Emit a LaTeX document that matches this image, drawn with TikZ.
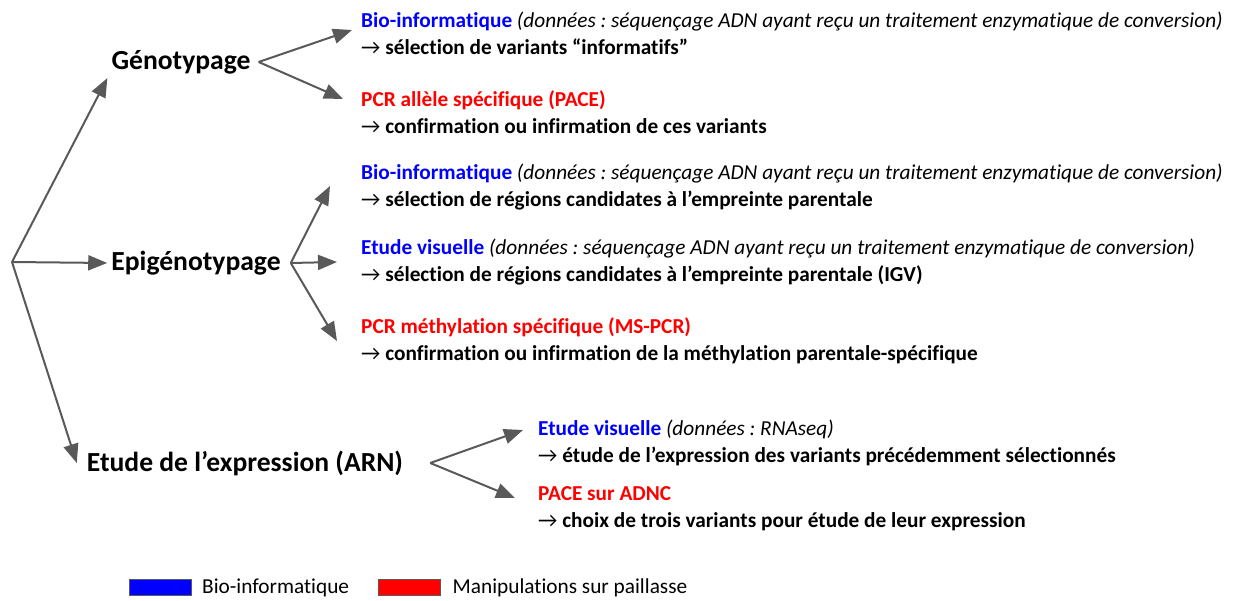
\documentclass[tikz,border=0pt]{standalone}
\usepackage{fontspec}
\setmainfont{Carlito}[Ligatures=NoCommon]
\frenchspacing
\usetikzlibrary{positioning}
\usetikzlibrary{arrows.meta}
\definecolor{arrgray}{RGB}{89,89,89}
\definecolor{infoblue}{RGB}{0,0,255}
\definecolor{wetred}{RGB}{255,0,0}
\newcommand{\bioinfo}[1]{\textcolor{infoblue}{#1}}
\newcommand{\paillasse}[1]{\textcolor{wetred}{#1}}
\newcommand{\donnees}[1]{{\mdseries\itshape (données : #1)}}
\newcommand{\fleche}{{\mdseries →}}

\begin{document}
\begin{tikzpicture}[x=1pt,y=-1pt,
  main/.style={font=\fontsize{27.6}{32}\selectfont\bfseries,inner sep=4pt},
  item/.style={anchor=west,align=left,inner sep=0pt,
    font=\fontsize{21.3}{27}\selectfont\bfseries},
  arr/.style={-{Triangle[length=19pt,width=15pt]},line width=2pt,color=arrgray},
  legbox/.style={draw=arrgray,line width=1pt,minimum width=62pt,
    minimum height=16pt,inner sep=0pt},
  legtxt/.style={font=\fontsize{21.3}{24}\selectfont,inner sep=0pt}
]
  \useasboundingbox (0,0) rectangle (1242,601);
  \coordinate (root) at (12,262);
  % main branches
  \node[main] (gen) at (181,62) {Génotypage};
  \node[main] (epi) at (196,263) {Epigénotypage};
  \node[main] (arn) at (245,463) {Etude de l’expression (ARN)};
  % genotypage
  \node[item] (g1a) at (361,33)
    {\bioinfo{Bio-informatique} \donnees{séquençage ADN ayant reçu un traitement enzymatique de conversion}\\
     \fleche{} sélection de variants “informatifs”};
  \node[item] (g1b) at (361,112)
    {\paillasse{PCR allèle spécifique (PACE)}\\
     \fleche{} confirmation ou infirmation de ces variants};
  % epigenotypage
  \node[item] (e1) at (361,187)
    {\bioinfo{Bio-informatique} \donnees{séquençage ADN ayant reçu un traitement enzymatique de conversion}\\
     \fleche{} sélection de régions candidates à l’empreinte parentale};
  \node[item] (e2) at (361,262)
    {\bioinfo{Etude visuelle} \donnees{séquençage ADN ayant reçu un traitement enzymatique de conversion}\\
     \fleche{} sélection de régions candidates à l’empreinte parentale (IGV)};
  \node[item] (e3) at (361,341)
    {\paillasse{PCR méthylation spécifique (MS-PCR)}\\
     \fleche{} confirmation ou infirmation de la méthylation parentale-spécifique};
  % expression
  \node[item] (a1) at (538,443)
    {\bioinfo{Etude visuelle} \donnees{RNAseq}\\
     \fleche{} étude de l’expression des variants précédemment sélectionnés};
  \node[item] (a2) at (538,509)
    {\paillasse{PACE sur ADNC}\\
     \fleche{} choix de trois variants pour étude de leur expression};
  % arrows
  \draw[arr] (root) -- (gen.south west);
  \draw[arr] (root) -- (epi.west);
  \draw[arr] (root) -- ([xshift=-6pt]arn.west);
  \draw[arr] ([xshift=4pt]gen.east) -- ([xshift=-9pt,yshift=3pt]g1a.west);
  \draw[arr] ([xshift=4pt]gen.east) -- ([xshift=-18pt,yshift=13pt]g1b.west);
  \draw[arr] ([xshift=6pt]epi.east) -- ([xshift=-31pt,yshift=1pt]e1.west);
  \draw[arr] ([xshift=6pt]epi.east) -- ([xshift=-24pt]e2.west);
  \draw[arr] ([xshift=6pt]epi.east) -- ([xshift=-24pt]e3.west);
  \draw[arr] ([xshift=23pt]arn.east) -- ([xshift=-15pt,yshift=13pt]a1.west);
  \draw[arr] ([xshift=23pt]arn.east) -- ([xshift=-23pt,yshift=11pt]a2.west);
  % legend
  \node[legbox,fill=infoblue] (lbio) at (160.5,587.5) {};
  \node[legtxt,right=10pt of lbio] (tbio) {Bio-informatique};
  \node[legbox,fill=wetred] (lwet) at (409,587.5) {};
  \node[legtxt,right=12pt of lwet] (twet) {Manipulations sur paillasse};
\end{tikzpicture}
\end{document}
